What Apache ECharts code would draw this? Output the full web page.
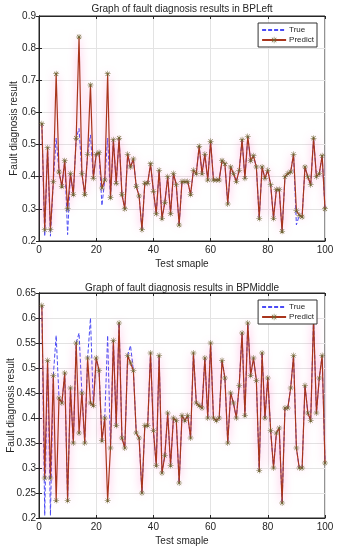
<!DOCTYPE html>
<html>
<head>
<meta charset="utf-8">
<script src="https://cdn.jsdelivr.net/npm/echarts@6/dist/echarts.min.js"></script>
<style>
html,body{margin:0;padding:0;background:#fff;}
#c{width:337px;height:550px;}
</style>
</head>
<body>
<div id="c"></div>
<script>
const samples = Array.from({length: 100}, (_, i) => i + 1);

const xTicks = [0, 20, 40, 60, 80, 100];
const leftTicks = [0.2, 0.3, 0.4, 0.5, 0.6, 0.7, 0.8, 0.9];
const middleTicks = [0.2, 0.25, 0.3, 0.35, 0.4, 0.45, 0.5, 0.55, 0.6, 0.65];

const leftPredict = [
0.565,0.235,0.49,0.235,0.385,0.72,0.415,0.37,0.45,0.30,
0.41,0.345,0.52,0.835,0.41,0.345,0.47,0.685,0.395,0.47,
0.475,0.365,0.39,0.72,0.335,0.515,0.38,0.52,0.345,0.30,
0.47,0.43,0.455,0.37,0.34,0.235,0.38,0.38,0.44,0.355,
0.285,0.42,0.27,0.32,0.40,0.285,0.41,0.375,0.25,0.385,
0.385,0.385,0.345,0.42,0.41,0.495,0.41,0.47,0.39,0.51,
0.39,0.39,0.39,0.45,0.44,0.315,0.43,0.41,0.385,0.42,
0.515,0.395,0.525,0.45,0.465,0.43,0.27,0.43,0.395,0.42,
0.375,0.27,0.36,0.36,0.23,0.40,0.41,0.415,0.47,0.295,
0.28,0.275,0.43,0.40,0.375,0.52,0.40,0.41,0.465,0.30
];
const leftTrue = [
0.565,0.215,0.49,0.215,0.385,0.52,0.415,0.37,0.45,0.22,
0.41,0.345,0.52,0.55,0.41,0.345,0.47,0.53,0.395,0.47,
0.475,0.31,0.39,0.52,0.335,0.515,0.38,0.52,0.345,0.30,
0.47,0.43,0.455,0.37,0.34,0.235,0.38,0.38,0.44,0.355,
0.285,0.42,0.27,0.32,0.40,0.285,0.41,0.375,0.25,0.385,
0.385,0.385,0.345,0.42,0.41,0.495,0.41,0.47,0.39,0.51,
0.39,0.39,0.39,0.45,0.44,0.315,0.43,0.41,0.385,0.42,
0.515,0.395,0.525,0.45,0.465,0.43,0.27,0.43,0.395,0.42,
0.375,0.27,0.36,0.36,0.23,0.40,0.41,0.415,0.47,0.25,
0.28,0.275,0.43,0.40,0.375,0.52,0.40,0.41,0.465,0.30
];
const middlePredict = [
0.625,0.28,0.515,0.28,0.485,0.235,0.44,0.43,0.49,0.235,
0.46,0.35,0.55,0.37,0.45,0.35,0.52,0.43,0.425,0.52,
0.495,0.355,0.40,0.235,0.34,0.555,0.385,0.59,0.36,0.34,
0.525,0.51,0.495,0.37,0.36,0.25,0.385,0.385,0.53,0.375,
0.305,0.525,0.29,0.325,0.41,0.305,0.40,0.395,0.27,0.405,
0.395,0.405,0.36,0.53,0.43,0.425,0.42,0.52,0.40,0.55,
0.40,0.395,0.40,0.515,0.48,0.35,0.45,0.43,0.40,0.465,
0.57,0.405,0.59,0.485,0.52,0.475,0.295,0.53,0.40,0.48,
0.375,0.30,0.37,0.38,0.23,0.42,0.42,0.46,0.525,0.34,
0.30,0.30,0.465,0.41,0.395,0.60,0.41,0.48,0.525,0.31
];
const middleTrue = [
0.625,0.205,0.515,0.205,0.485,0.565,0.44,0.43,0.49,0.235,
0.46,0.35,0.55,0.57,0.45,0.35,0.52,0.60,0.425,0.52,
0.495,0.355,0.40,0.565,0.34,0.555,0.385,0.59,0.36,0.34,
0.525,0.545,0.495,0.37,0.36,0.25,0.385,0.385,0.53,0.375,
0.305,0.525,0.29,0.325,0.41,0.305,0.40,0.395,0.27,0.405,
0.395,0.405,0.36,0.53,0.43,0.425,0.42,0.52,0.40,0.55,
0.40,0.395,0.40,0.515,0.48,0.35,0.45,0.43,0.40,0.465,
0.57,0.405,0.59,0.485,0.52,0.475,0.295,0.53,0.40,0.48,
0.375,0.30,0.37,0.38,0.23,0.42,0.42,0.46,0.525,0.34,
0.30,0.30,0.465,0.41,0.395,0.60,0.41,0.48,0.525,0.31
];

const titles = ['Graph of fault diagnosis results in BPLeft', 'Graph of fault diagnosis results in BPMiddle'];
const xName = 'Test smaple';
const yName = 'Fault diagnosis result';
const legendNames = ['True', 'Predict'];

const FONT = '"Liberation Sans", Arial, Helvetica, sans-serif';
const star = 'path://M4.6 0h0.8v10h-0.8Z M0 4.6h10v0.8h-10Z M1.2 1.8L1.8 1.2L8.8 8.2L8.2 8.8Z M8.2 1.2L8.8 1.8L1.8 8.8L1.2 8.2Z';

function pairs(arr) { return arr.map((v, i) => [samples[i], v]); }
function fmt(v) { return String(parseFloat(Number(v).toFixed(2))); }

const grids = [
  {left: 39, width: 286, top: 16, height: 225},
  {left: 39, width: 286, top: 293, height: 225}
];
const titleOffsets = [12, 10];
const yNameGaps = [20, 23];
const yTickSets = [leftTicks, middleTicks];
const dataSets = [[leftTrue, leftPredict], [middleTrue, middlePredict]];

const option = {
  backgroundColor: '#fff',
  animation: false,
  textStyle: {fontFamily: FONT},
  title: grids.map((g, k) => ({
    text: titles[k],
    left: g.left + g.width / 2,
    textAlign: 'center',
    top: g.top - titleOffsets[k],
    padding: 0,
    textStyle: {fontSize: 10, fontWeight: 'normal', color: '#262626', fontFamily: FONT}
  })),
  legend: grids.map((g, k) => ({
    data: [
      {name: legendNames[0], itemStyle: {opacity: 0}},
      {name: legendNames[1]}
    ],
    orient: 'vertical',
    right: 20,
    top: g.top + 7,
    itemWidth: 24,
    itemHeight: 8,
    itemGap: 2,
    padding: [3, 3, 3, 3],
    borderColor: '#333',
    borderWidth: 1,
    borderRadius: 0,
    backgroundColor: '#fff',
    textStyle: {fontSize: 8, color: '#262626', fontFamily: FONT, padding: [0, 0, 0, -2]},
    selectedMode: false
  })),
  grid: grids.map(g => Object.assign({show: true, borderColor: '#262626', borderWidth: 1, backgroundColor: 'transparent', outerBoundsMode: 'none', containLabel: false}, g)),
  xAxis: [],
  yAxis: [],
  series: []
};

grids.forEach((g, k) => {
  const yt = yTickSets[k];
  const ymin = yt[0], ymax = yt[yt.length - 1];
  const yint = yt[1] - yt[0];
  option.xAxis.push({
    type: 'value', gridIndex: k, min: xTicks[0], max: xTicks[xTicks.length - 1], interval: xTicks[1] - xTicks[0],
    name: xName, nameLocation: 'middle', nameGap: 18, nameMoveOverlap: false,
    nameTextStyle: {fontSize: 10, color: '#262626', fontFamily: FONT},
    axisLine: {show: true, lineStyle: {color: '#262626', width: 1}},
    axisTick: {show: true, inside: true, length: 3, lineStyle: {color: '#262626'}},
    axisLabel: {fontSize: 10, color: '#262626', margin: 4, fontFamily: FONT},
    splitLine: {show: true, lineStyle: {color: '#e3e3e3', width: 1}}
  });
  option.xAxis.push({
    type: 'value', gridIndex: k, position: 'top', min: xTicks[0], max: xTicks[xTicks.length - 1], interval: xTicks[1] - xTicks[0],
    axisLine: {show: true, lineStyle: {color: '#262626', width: 1}},
    axisTick: {show: true, inside: true, length: 3, lineStyle: {color: '#262626'}},
    axisLabel: {show: false}, splitLine: {show: false}
  });
  option.yAxis.push({
    type: 'value', gridIndex: k, min: ymin, max: ymax, interval: yint,
    name: yName, nameLocation: 'middle', nameGap: yNameGaps[k], nameMoveOverlap: false,
    nameTextStyle: {fontSize: 10, color: '#262626', fontFamily: FONT},
    axisLine: {show: true, lineStyle: {color: '#262626', width: 1}},
    axisTick: {show: true, inside: true, length: 3, lineStyle: {color: '#262626'}},
    axisLabel: {fontSize: 10, color: '#262626', margin: 3, formatter: fmt, fontFamily: FONT},
    splitLine: {show: true, lineStyle: {color: '#e3e3e3', width: 1}}
  });
  option.yAxis.push({
    type: 'value', gridIndex: k, position: 'right', min: ymin, max: ymax, interval: yint,
    axisLine: {show: true, lineStyle: {color: '#262626', width: 1}},
    axisTick: {show: true, inside: true, length: 3, lineStyle: {color: '#262626'}},
    axisLabel: {show: false}, splitLine: {show: false}
  });
  const [tru, pred] = dataSets[k];
  option.series.push({
    name: legendNames[0], type: 'line', xAxisIndex: 2 * k, yAxisIndex: 2 * k,
    data: pairs(tru), symbol: 'none', z: 2,
    lineStyle: {color: '#4b4bf5', width: 1, type: [4, 2]},
    itemStyle: {color: '#4b4bf5'}
  });
  option.series.push({
    name: legendNames[1], type: 'line', xAxisIndex: 2 * k, yAxisIndex: 2 * k,
    data: pairs(pred), symbol: star, symbolSize: 6, z: 3,
    lineStyle: {color: '#a8351c', width: 1.2, shadowColor: 'rgba(255,80,180,0.6)', shadowBlur: 8},
    itemStyle: {color: '#6f6432'}
  });
});

const chart = echarts.init(document.getElementById('c'), null, {renderer: 'canvas'});
chart.setOption(option);
</script>
</body>
</html>
